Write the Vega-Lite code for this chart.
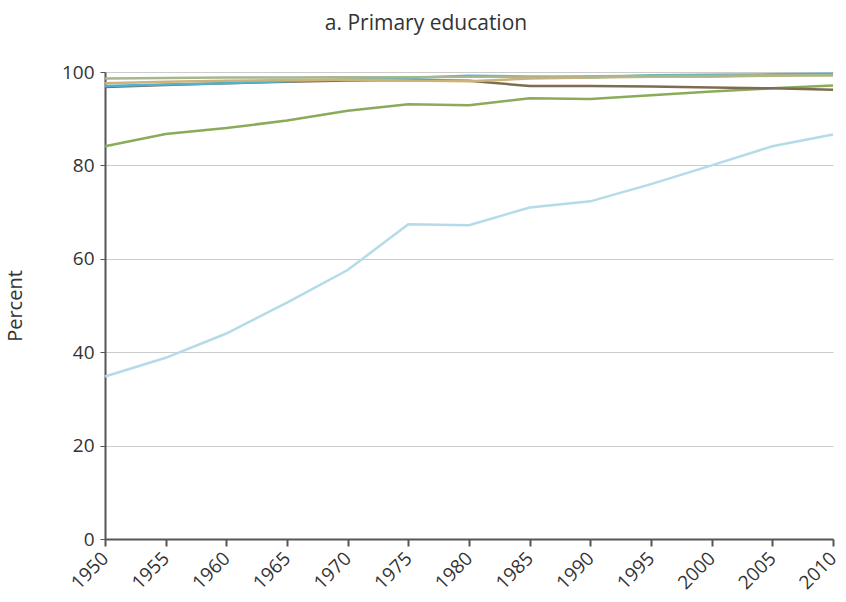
{
  "$schema": "https://vega.github.io/schema/vega-lite/v6.json",
  "width": 728,
  "height": 467,
  "autosize": {"type": "none"},
  "padding": {"left": 105, "top": 72, "right": 13, "bottom": 63},
  "background": "white",
  "title": {"text": "a. Primary education", "font": "Open Sans", "fontSize": 21, "fontWeight": "normal", "color": "#333333", "anchor": "middle", "dx": -43, "offset": 29},
  "config": {"view": {"stroke": null}},
  "data": {"values": [
    {"year": 1950, "s": "A", "v": 34.8}, {"year": 1955, "s": "A", "v": 38.8}, {"year": 1960, "s": "A", "v": 44.0},
    {"year": 1965, "s": "A", "v": 50.6}, {"year": 1970, "s": "A", "v": 57.6}, {"year": 1975, "s": "A", "v": 67.4},
    {"year": 1980, "s": "A", "v": 67.2}, {"year": 1985, "s": "A", "v": 71.0}, {"year": 1990, "s": "A", "v": 72.3},
    {"year": 1995, "s": "A", "v": 76.0}, {"year": 2000, "s": "A", "v": 80.0}, {"year": 2005, "s": "A", "v": 84.1},
    {"year": 2010, "s": "A", "v": 86.6},
    {"year": 1950, "s": "B", "v": 84.1}, {"year": 1955, "s": "B", "v": 86.7}, {"year": 1960, "s": "B", "v": 88.0},
    {"year": 1965, "s": "B", "v": 89.6}, {"year": 1970, "s": "B", "v": 91.7}, {"year": 1975, "s": "B", "v": 93.1},
    {"year": 1980, "s": "B", "v": 92.9}, {"year": 1985, "s": "B", "v": 94.4}, {"year": 1990, "s": "B", "v": 94.2},
    {"year": 1995, "s": "B", "v": 95.0}, {"year": 2000, "s": "B", "v": 95.8}, {"year": 2005, "s": "B", "v": 96.5},
    {"year": 2010, "s": "B", "v": 97.1},
    {"year": 1950, "s": "C", "v": 96.8}, {"year": 1955, "s": "C", "v": 97.2}, {"year": 1960, "s": "C", "v": 97.6},
    {"year": 1965, "s": "C", "v": 97.9}, {"year": 1970, "s": "C", "v": 98.2}, {"year": 1975, "s": "C", "v": 98.3},
    {"year": 1980, "s": "C", "v": 98.1}, {"year": 1985, "s": "C", "v": 97.0}, {"year": 1990, "s": "C", "v": 97.0},
    {"year": 1995, "s": "C", "v": 96.9}, {"year": 2000, "s": "C", "v": 96.7}, {"year": 2005, "s": "C", "v": 96.5},
    {"year": 2010, "s": "C", "v": 96.2},
    {"year": 1950, "s": "D", "v": 97.0}, {"year": 1955, "s": "D", "v": 97.3}, {"year": 1960, "s": "D", "v": 97.6},
    {"year": 1965, "s": "D", "v": 98.0}, {"year": 1970, "s": "D", "v": 98.4}, {"year": 1975, "s": "D", "v": 98.7},
    {"year": 1980, "s": "D", "v": 99.2}, {"year": 1985, "s": "D", "v": 99.0}, {"year": 1990, "s": "D", "v": 98.8},
    {"year": 1995, "s": "D", "v": 99.3}, {"year": 2000, "s": "D", "v": 99.4}, {"year": 2005, "s": "D", "v": 99.5},
    {"year": 2010, "s": "D", "v": 99.6},
    {"year": 1950, "s": "E", "v": 97.6}, {"year": 1955, "s": "E", "v": 97.9}, {"year": 1960, "s": "E", "v": 98.1},
    {"year": 1965, "s": "E", "v": 98.3}, {"year": 1970, "s": "E", "v": 98.4}, {"year": 1975, "s": "E", "v": 98.2},
    {"year": 1980, "s": "E", "v": 98.0}, {"year": 1985, "s": "E", "v": 98.6}, {"year": 1990, "s": "E", "v": 98.8},
    {"year": 1995, "s": "E", "v": 99.0}, {"year": 2000, "s": "E", "v": 99.0}, {"year": 2005, "s": "E", "v": 99.2},
    {"year": 2010, "s": "E", "v": 99.3},
    {"year": 1950, "s": "F", "v": 98.6}, {"year": 1955, "s": "F", "v": 98.7}, {"year": 1960, "s": "F", "v": 98.8},
    {"year": 1965, "s": "F", "v": 98.8}, {"year": 1970, "s": "F", "v": 98.9}, {"year": 1975, "s": "F", "v": 98.9},
    {"year": 1980, "s": "F", "v": 99.0}, {"year": 1985, "s": "F", "v": 99.0}, {"year": 1990, "s": "F", "v": 99.1},
    {"year": 1995, "s": "F", "v": 99.2}, {"year": 2000, "s": "F", "v": 99.2}, {"year": 2005, "s": "F", "v": 99.3},
    {"year": 2010, "s": "F", "v": 99.3}
  ]},
  "mark": {"type": "line", "strokeWidth": 2.5},
  "encoding": {
    "x": {"field": "year", "type": "quantitative",
      "scale": {"domain": [1950, 2010], "nice": false, "zero": false},
      "axis": {"values": [1950,1955,1960,1965,1970,1975,1980,1985,1990,1995,2000,2005,2010], "format": "d",
        "title": null, "grid": false, "labelAngle": -45, "labelAlign": "right", "labelBaseline": "middle",
        "labelFont": "Open Sans", "labelFontSize": 19, "labelColor": "#333333", "labelPadding": 9,
        "domainColor": "#555555", "domainWidth": 2, "tickColor": "#555555", "tickWidth": 2, "tickSize": 7}},
    "y": {"field": "v", "type": "quantitative",
      "scale": {"domain": [0, 100], "nice": false},
      "axis": {"values": [0,20,40,60,80,100], "title": "Percent", "titleFont": "Open Sans", "titleFontSize": 20,
        "titleFontWeight": "normal", "titleColor": "#333333", "titlePadding": 36,
        "labelFont": "Open Sans", "labelFontSize": 19, "labelColor": "#333333", "labelPadding": 6,
        "gridColor": "#cccccc", "gridWidth": 1, "domainColor": "#555555", "domainWidth": 2,
        "tickColor": "#555555", "tickSize": 5}},
    "color": {"field": "s", "type": "nominal", "legend": null,
      "scale": {"domain": ["A","B","C","D","E","F"],
        "range": ["#b4dbe8", "#8aab5a", "#7d6c52", "#4fb0cf", "#cdb27a", "#a8b78d"]}}
  }
}
